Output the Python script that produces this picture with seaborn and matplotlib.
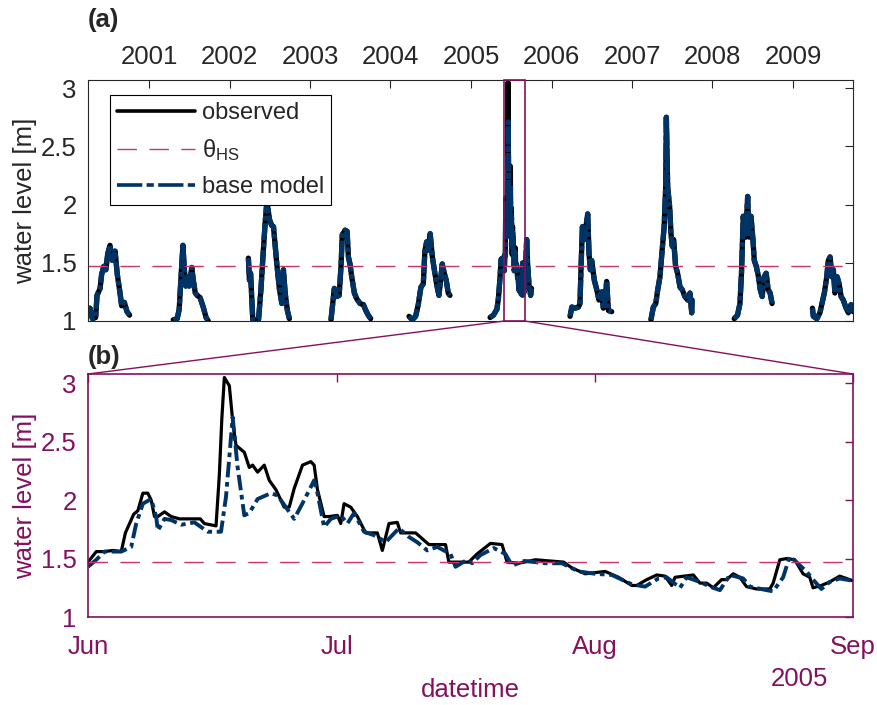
import numpy as np
import pandas as pd
import seaborn as sns
import matplotlib.pyplot as plt
import matplotlib.dates as mdates
from matplotlib.lines import Line2D
from matplotlib.patches import Rectangle, ConnectionPatch

# seasonal records: days after 1 January and water level [m]
doy_2000 = [88, 97, 108, 123, 129, 143, 150, 160, 169, 178, 188, 199, 211, 221, 232, 241, 253, 265, 277]
wl_2000 = [1.08, 1.11, 1.02, 1.03, 1.22, 1.28, 1.40, 1.47, 1.44, 1.58, 1.65, 1.52, 1.60, 1.40, 1.26, 1.13, 1.16, 1.08, 1.05]
doy_2001 = [109, 127, 136, 145, 153, 159, 166, 172, 181, 193, 200, 209, 218, 231, 245, 258, 268]
wl_2001 = [1.01, 1.02, 1.10, 1.40, 1.65, 1.45, 1.30, 1.38, 1.30, 1.46, 1.35, 1.24, 1.22, 1.20, 1.12, 1.03, 1.00]
doy_2002 = [85, 90, 95, 105, 131, 142, 151, 161, 169, 181, 191, 199, 214, 226, 237, 244, 252, 262, 271]
wl_2002 = [1.54, 1.35, 1.41, 1.01, 1.01, 1.27, 1.55, 1.84, 2.03, 1.87, 1.82, 1.81, 1.49, 1.27, 1.15, 1.44, 1.24, 1.09, 1.02]
doy_2003 = [95, 110, 121, 132, 141, 146, 159, 168, 174, 181, 189, 201, 212, 227, 242, 253, 264, 275]
wl_2003 = [1.01, 1.28, 1.21, 1.22, 1.49, 1.74, 1.78, 1.77, 1.55, 1.49, 1.38, 1.24, 1.19, 1.15, 1.14, 1.09, 1.05, 1.02]
doy_2004 = [84, 99, 114, 126, 138, 149, 156, 164, 171, 180, 190, 199, 210, 220, 229, 235, 244, 253, 262, 270]
wl_2004 = [1.04, 1.01, 1.04, 1.14, 1.29, 1.32, 1.60, 1.68, 1.61, 1.75, 1.55, 1.44, 1.31, 1.22, 1.38, 1.49, 1.41, 1.35, 1.24, 1.22]
doy_2005_pre = [86, 101, 117, 124, 131, 136, 142]
wl_2005_pre = [1.03, 1.05, 1.10, 1.20, 1.37, 1.53, 1.54]
doy_2005_post = [247, 252, 256, 263, 270, 274]
wl_2005_post = [1.45, 1.70, 1.50, 1.30, 1.22, 1.28]
doy_2006 = [84, 92, 107, 122, 129, 134, 140, 149, 156, 164, 170, 176, 182, 194, 205, 215, 228, 235, 243, 250, 258, 273]
wl_2006 = [1.04, 1.12, 1.11, 1.12, 1.15, 1.47, 1.81, 1.70, 1.81, 1.92, 1.58, 1.44, 1.52, 1.35, 1.27, 1.18, 1.25, 1.11, 1.18, 1.34, 1.09, 1.08]
doy_2007 = [86, 97, 108, 117, 127, 137, 146, 153, 156, 162, 171, 177, 183, 189, 198, 207, 218, 228, 240, 253, 263, 271, 273]
wl_2007 = [1.01, 1.12, 1.15, 1.27, 1.38, 1.61, 1.81, 2.15, 2.75, 2.15, 1.98, 1.75, 1.64, 1.70, 1.47, 1.41, 1.29, 1.27, 1.21, 1.18, 1.24, 1.07, 1.18]
doy_2008 = [99, 114, 125, 132, 140, 151, 160, 166, 175, 184, 190, 199, 208, 217, 226, 235, 244, 253, 262, 271]
wl_2008 = [1.02, 1.05, 1.15, 1.41, 1.90, 1.72, 2.07, 1.72, 1.90, 1.70, 1.52, 1.47, 1.39, 1.27, 1.21, 1.38, 1.41, 1.27, 1.24, 1.15]
doy_2009 = [88, 92, 108, 122, 130, 142, 153, 160, 168, 176, 183, 190, 200, 209, 218, 228, 239, 251, 263, 273]
wl_2009 = [1.11, 1.04, 1.02, 1.07, 1.14, 1.24, 1.38, 1.52, 1.55, 1.38, 1.44, 1.24, 1.38, 1.32, 1.21, 1.18, 1.12, 1.07, 1.14, 1.08]

# summer 2005 detail: days after 1 June
obs_day = [0, 1, 2, 3, 4, 4.5, 5, 5.5, 6, 6.6,
           7.2, 7.6, 8, 8.4, 9.2, 10, 11, 12, 13.5, 14,
           15.4, 15.8, 16.1, 16.4, 17, 17.4, 17.8, 18.8, 19.4, 19.8,
           20.4, 21.2, 21.8, 22.6, 23.6, 24.2, 24.8, 25.8, 26.8, 27.2,
           27.6, 28.4, 29, 30, 30.4, 30.8, 31.6, 32.4, 33.4, 34.8,
           35.4, 36.2, 37.2, 37.6, 39.4, 41, 43, 43.4, 45.8, 46.8,
           48.4, 49.8, 50.4, 51.8, 53.8, 57.2, 58.2, 59.8, 62.2, 63.8,
           65.4, 66, 67.2, 68.4, 69.4, 70.2, 70.6, 72.8, 73.6, 74.4,
           75.2, 76.2, 76.8, 77.6, 78.4, 79.2, 80.4, 82, 82.4, 83.2,
           84, 85, 86, 86.8, 87.2, 88.2, 89.2, 90.4, 92]
obs_wl = [1.47, 1.56, 1.56, 1.57, 1.56, 1.72, 1.80, 1.88, 1.91, 2.06,
          2.06, 2.00, 1.86, 1.86, 1.90, 1.86, 1.84, 1.84, 1.84, 1.80,
          1.78, 2.22, 2.70, 3.05, 2.98, 2.68, 2.47, 2.41, 2.28, 2.30,
          2.24, 2.30, 2.17, 2.09, 1.94, 1.94, 2.10, 2.30, 2.33, 2.30,
          2.09, 1.86, 1.86, 1.87, 1.80, 1.97, 1.94, 1.86, 1.72, 1.72,
          1.57, 1.80, 1.81, 1.72, 1.72, 1.62, 1.62, 1.47, 1.47, 1.54,
          1.63, 1.62, 1.47, 1.46, 1.49, 1.47, 1.42, 1.37, 1.39, 1.34,
          1.27, 1.27, 1.32, 1.36, 1.35, 1.27, 1.34, 1.36, 1.29, 1.29,
          1.25, 1.32, 1.32, 1.37, 1.34, 1.26, 1.24, 1.24, 1.29, 1.49,
          1.50, 1.49, 1.37, 1.34, 1.25, 1.27, 1.30, 1.35, 1.31]
mod_day = [0, 1, 2, 4, 5.2, 5.8, 6.6, 7.6, 8.2, 8.4,
           9.2, 10, 11.2, 12.8, 14.4, 16, 16.6, 17.4, 18, 18.8,
           19.4, 20.4, 22, 22.8, 23.6, 24.8, 26, 27.2, 27.6, 28.4,
           29.2, 30.4, 31.2, 32, 33.2, 34.4, 35.4, 35.8, 37.4, 38.5,
           39.6, 40.8, 42, 43.6, 44.2, 45.6, 46.2, 47.2, 48.8, 50.2,
           51, 52.5, 55, 57, 59, 61, 63, 65.4, 67, 68.6,
           69.6, 71.2, 72, 73.6, 74.8, 76, 77.2, 78.8, 79.6, 81.6,
           82.4, 83.6, 84.4, 85.2, 86.4, 87.2, 88.2, 89.2, 90.4, 92]
mod_wl = [1.43, 1.49, 1.56, 1.56, 1.60, 1.80, 1.97, 2.01, 1.86, 1.74,
          1.84, 1.83, 1.79, 1.81, 1.73, 1.73, 2.03, 2.71, 2.28, 1.87,
          1.89, 2.01, 2.06, 2.04, 1.96, 1.84, 2.00, 2.17, 2.06, 1.77,
          1.84, 1.87, 1.80, 1.89, 1.73, 1.70, 1.66, 1.64, 1.76, 1.69,
          1.64, 1.57, 1.60, 1.54, 1.43, 1.49, 1.46, 1.53, 1.59, 1.54,
          1.44, 1.48, 1.46, 1.46, 1.39, 1.37, 1.36, 1.28, 1.26, 1.33,
          1.34, 1.25, 1.34, 1.30, 1.26, 1.23, 1.36, 1.33, 1.26, 1.23,
          1.22, 1.34, 1.52, 1.47, 1.39, 1.32, 1.24, 1.30, 1.33, 1.31]

theta_hs = 1.475

blue = "#003366"
crimson = "#cc3366"
purple = "#84105f"
dark = "#262626"
theta_ls = (0, (14, 9))


def season_frame(year, doy, wl):
    dates = pd.Timestamp(f"{year}-01-01") + pd.to_timedelta(doy, unit="D")
    return pd.DataFrame({"date": dates, "wl": wl, "season": year})


other = [(2000, doy_2000, wl_2000), (2001, doy_2001, wl_2001), (2002, doy_2002, wl_2002),
         (2003, doy_2003, wl_2003), (2004, doy_2004, wl_2004), (2006, doy_2006, wl_2006),
         (2007, doy_2007, wl_2007), (2008, doy_2008, wl_2008), (2009, doy_2009, wl_2009)]
base = [season_frame(y, d, w) for y, d, w in other]

obs_2005 = season_frame(2005, doy_2005_pre + [151 + d for d in obs_day] + doy_2005_post,
                        wl_2005_pre + obs_wl + wl_2005_post)
mod_2005 = season_frame(2005, doy_2005_pre + [151 + d for d in mod_day] + doy_2005_post,
                        wl_2005_pre + mod_wl + wl_2005_post)
top_obs = pd.concat(base + [obs_2005], ignore_index=True)
top_mod = pd.concat(base + [mod_2005], ignore_index=True)

jun1 = pd.Timestamp("2005-06-01")
sep1 = pd.Timestamp("2005-09-01")
det_obs = pd.DataFrame({"date": jun1 + pd.to_timedelta(obs_day, unit="D"), "wl": obs_wl})
det_mod = pd.DataFrame({"date": jun1 + pd.to_timedelta(mod_day, unit="D"), "wl": mod_wl})

sns.set_theme(style="white")
plt.rcParams["font.family"] = ["Liberation Sans", "DejaVu Sans"]
plt.rcParams["mathtext.fontset"] = "custom"
plt.rcParams["mathtext.rm"] = "Liberation Sans"
plt.rcParams["mathtext.it"] = "Liberation Sans:italic"

fig = plt.figure(figsize=(8.78, 7.05), dpi=100)
ax1 = fig.add_axes([0.1002, 0.5447, 0.8713, 0.3418])
ax2 = fig.add_axes([0.1002, 0.1248, 0.8713, 0.3447])

# (a) full record
sns.lineplot(data=top_obs, x="date", y="wl", units="season", estimator=None,
             color="black", lw=3.8, ax=ax1)
sns.lineplot(data=top_mod, x="date", y="wl", units="season", estimator=None,
             color=blue, lw=3.8, linestyle=(0, (3.2, 0.5, 0.9, 0.5)), ax=ax1)
ax1.axhline(theta_hs, color=crimson, lw=1.0, linestyle=theta_ls)

ax1.set_xlim(pd.Timestamp("2000-03-29"), pd.Timestamp("2009-09-30"))
ax1.set_ylim(1, 3.07)
ax1.set_yticks([1, 1.5, 2, 2.5, 3])
ax1.set_yticklabels(["1", "1.5", "2", "2.5", "3"])
ax1.xaxis.set_major_locator(mdates.YearLocator())
ax1.xaxis.set_major_formatter(mdates.DateFormatter("%Y"))
ax1.tick_params(axis="both", direction="in", length=6, width=0.8, colors=dark,
                top=True, right=True, labeltop=True, labelbottom=False, labelsize=18.5)
ax1.tick_params(axis="x", pad=8)
ax1.tick_params(axis="y", pad=8)
for s in ax1.spines.values():
    s.set_color(dark)
    s.set_linewidth(0.8)
ax1.set_xlabel("")
ax1.set_ylabel("water level [m]", fontsize=18.5, color=dark, labelpad=3)

handles = [Line2D([], [], color="black", lw=2.6),
           Line2D([], [], color=crimson, lw=1.0, linestyle=theta_ls),
           Line2D([], [], color=blue, lw=2.6, linestyle=(0, (7, 1.2, 2, 1.2)))]
labels = ["observed", r"θ$_{\mathrm{HS}}$", "base model"]
leg = ax1.legend(handles, labels, loc="upper left", bbox_to_anchor=(0.0288, 0.938),
                 borderaxespad=0, fontsize=17, frameon=True, fancybox=False,
                 edgecolor="black", framealpha=1, handlelength=3.3, handletextpad=0.3,
                 borderpad=0.3, labelspacing=0.55)
leg.get_frame().set_linewidth(0.8)

t0 = mdates.date2num(jun1)
t1 = mdates.date2num(sep1)
ax1.add_patch(Rectangle((t0, 1), t1 - t0, 2.07, fill=False, edgecolor=purple,
                        lw=1.2, clip_on=False, zorder=5))

# (b) summer 2005
sns.lineplot(data=det_obs, x="date", y="wl", estimator=None, color="black", lw=2.3, ax=ax2)
sns.lineplot(data=det_mod, x="date", y="wl", estimator=None, color=blue, lw=2.8,
             linestyle=(0, (4, 1.2, 1.2, 1.2)), ax=ax2)
ax2.axhline(theta_hs, color=crimson, lw=1.0, linestyle=theta_ls)

ax2.set_xlim(jun1, sep1)
ax2.set_ylim(1, 3.08)
ax2.set_yticks([1, 1.5, 2, 2.5, 3])
ax2.set_yticklabels(["1", "1.5", "2", "2.5", "3"])
ax2.xaxis.set_major_locator(mdates.MonthLocator())
ax2.xaxis.set_major_formatter(mdates.DateFormatter("%b"))
ax2.tick_params(axis="both", direction="in", length=6, width=1.0, colors=purple,
                top=True, right=True, labelsize=18.5)
ax2.tick_params(axis="x", pad=13)
ax2.tick_params(axis="y", pad=8)
for s in ax2.spines.values():
    s.set_color(purple)
    s.set_linewidth(1.2)
ax2.set_ylabel("water level [m]", fontsize=18.5, color=purple, labelpad=3)
ax2.set_xlabel("")
ax2.text(0.5, -0.30, "datetime", transform=ax2.transAxes, ha="center", va="center",
         fontsize=18.5, color=purple)
ax2.text(0.967, -0.255, "2005", transform=ax2.transAxes, ha="right", va="center",
         fontsize=18.5, color=purple)

for xa, xb in [(t0, 0), (t1, 1)]:
    con = ConnectionPatch(xyA=(xa, 1), coordsA=ax1.transData, xyB=(xb, 1),
                          coordsB=ax2.transAxes, color=purple, lw=1.0)
    fig.add_artist(con)

fig.text(88 / 878, 1 - 20 / 705, "(a)", fontsize=18.5, fontweight="bold", ha="left", va="center")
fig.text(88 / 878, 1 - 357 / 705, "(b)", fontsize=18.5, fontweight="bold", ha="left", va="center")

fig.savefig("out.png", dpi=100)
